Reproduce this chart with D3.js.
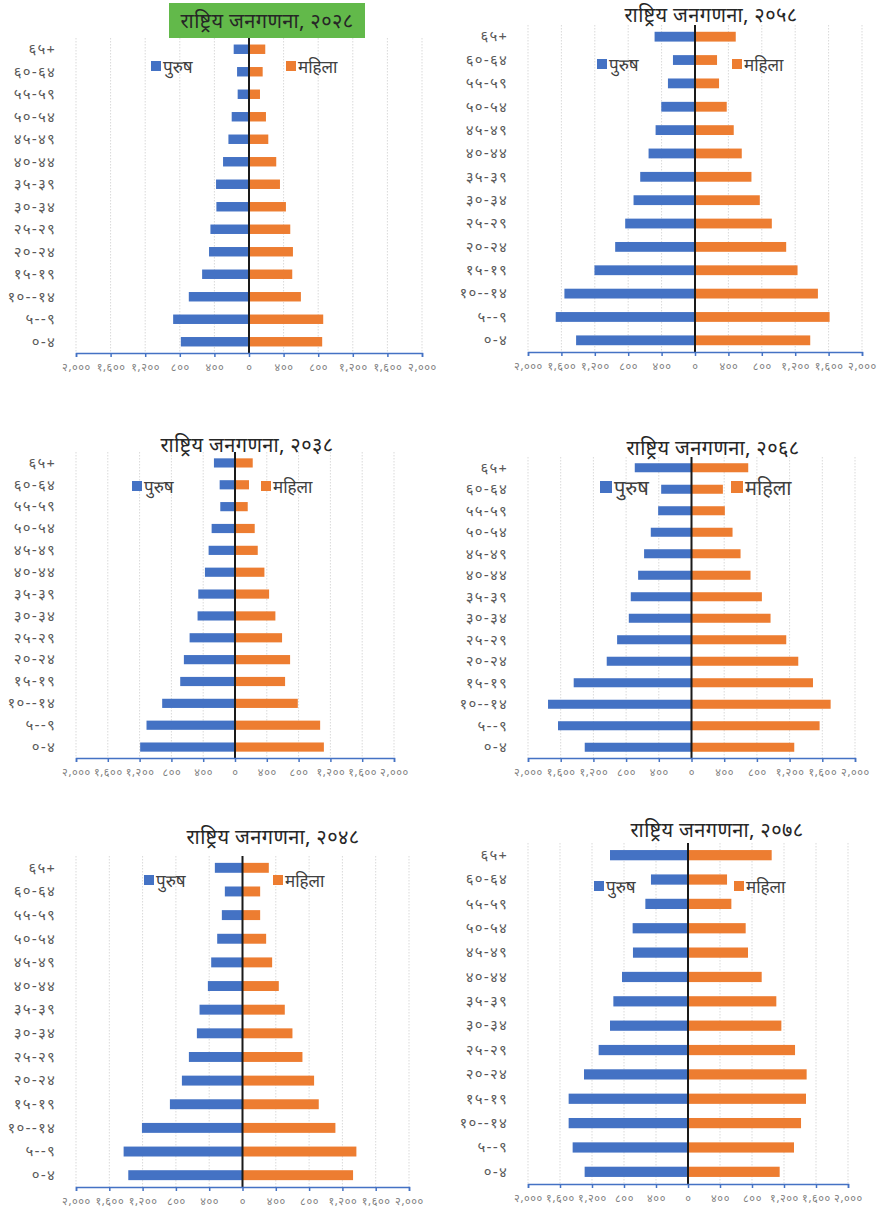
<!DOCTYPE html>
<html>
<head>
<meta charset="utf-8">
<script src="https://cdn.jsdelivr.net/npm/d3@7"></script>
<style>
  body { margin: 0; background: #ffffff; }
  svg text { font-family: "Noto Sans Devanagari", "Lohit Devanagari", "Noto Sans", sans-serif; }
</style>
</head>
<body>
<div id="pyramids"></div>
<script>
// age groups, bottom (0-4) to top (65+)
var ageGroups = ["०-४", "५--९", "१०--१४", "१५-१९", "२०-२४", "२५-२९", "३०-३४",
    "३५-३९", "४०-४४", "४५-४९", "५०-५४", "५५-५९", "६०-६४", "६५+"];

var tickValues = [-2000, -1600, -1200, -800, -400, 0, 400, 800, 1200, 1600, 2000];
var tickLabels = ["२,०००", "१,६००", "१,२००", "८००", "४००", "०", "४००", "८००", "१,२००", "१,६००", "२,०००"];

var seriesNames = ["पुरुष", "महिला"];

var titles = ["राष्ट्रिय जनगणना, २०२८", "राष्ट्रिय जनगणना, २०५८", "राष्ट्रिय जनगणना, २०३८",
    "राष्ट्रिय जनगणना, २०६८", "राष्ट्रिय जनगणना, २०४८", "राष्ट्रिय जनगणना, २०७८"];

var male2028 = [788, 877, 696, 542, 462, 446, 377, 381, 300, 238, 200, 131, 138, 177];
var female2028 = [846, 858, 600, 500, 508, 477, 427, 358, 315, 223, 196, 127, 158, 188];

var male2058 = [1424, 1668, 1564, 1204, 956, 836, 736, 656, 556, 472, 404, 324, 264, 484];
var female2058 = [1380, 1612, 1472, 1228, 1092, 920, 776, 676, 560, 464, 380, 288, 264, 488];

var male2038 = [1193, 1113, 916, 689, 643, 571, 471, 462, 378, 332, 294, 185, 193, 265];
var female2038 = [1118, 1071, 790, 630, 693, 592, 508, 429, 370, 286, 248, 160, 176, 223];

var male2068 = [1306, 1633, 1755, 1441, 1037, 910, 767, 743, 653, 580, 498, 408, 371, 694];
var female2068 = [1257, 1567, 1702, 1486, 1306, 1159, 967, 861, 722, 600, 502, 408, 384, 694];

var male2048 = [1372, 1428, 1208, 872, 728, 644, 548, 516, 416, 376, 304, 248, 212, 332];
var female2048 = [1328, 1368, 1116, 916, 860, 720, 600, 508, 436, 356, 284, 212, 212, 316];

var male2078 = [1292, 1442, 1492, 1492, 1300, 1117, 975, 933, 825, 688, 692, 533, 463, 975];
var female2078 = [1146, 1325, 1413, 1475, 1483, 1338, 1167, 1104, 921, 750, 721, 542, 488, 1046];

var maleColor = "#4472c4";
var femaleColor = "#ed7d31";

// where each pyramid sits on the page
var panels = [
    {male: male2028, female: female2028, x0: 76, x1: 422, top: 38, axis: 353, titleX: 267, titleY: 28, box: true,
        legY: 61, legBlue: 151, legOrange: 286, legSize: 10, legFont: 17, labelX: 56},
    {male: male2058, female: female2058, x0: 528, x1: 862, top: 25, axis: 352, titleX: 711, titleY: 22, box: false,
        legY: 59, legBlue: 597, legOrange: 732, legSize: 10, legFont: 17, labelX: 508},
    {male: male2038, female: female2038, x0: 76, x1: 394, top: 452, axis: 758, titleX: 247, titleY: 452, box: false,
        legY: 481, legBlue: 132, legOrange: 261, legSize: 10, legFont: 17, labelX: 56},
    {male: male2068, female: female2068, x0: 528, x1: 855, top: 457, axis: 758, titleX: 713, titleY: 455, box: false,
        legY: 481, legBlue: 600, legOrange: 731, legSize: 12, legFont: 20, labelX: 508},
    {male: male2048, female: female2048, x0: 76, x1: 409, top: 856, axis: 1187, titleX: 273, titleY: 844, box: false,
        legY: 875, legBlue: 144, legOrange: 273, legSize: 10, legFont: 17, labelX: 56},
    {male: male2078, female: female2078, x0: 528, x1: 848, top: 843, axis: 1184, titleX: 717, titleY: 837, box: false,
        legY: 881, legBlue: 594, legOrange: 734, legSize: 10, legFont: 17, labelX: 508}
];

var svg = d3.select("#pyramids").append("svg")
    .attr("width", 881)
    .attr("height", 1210);

function drawPyramid(p, title) {

    var g = svg.append("g").attr("class", "pyramid");

    var x = d3.scaleLinear()
        .domain([-2000, 2000])
        .range([p.x0, p.x1]);

    var y = d3.scaleBand()
        .domain(ageGroups.slice().reverse())
        .range([p.top, p.axis])
        .paddingInner(0.58)
        .paddingOuter(0.29);

    // dotted vertical gridlines
    g.selectAll("line.grid")
        .data(tickValues)
        .enter()
        .append("line")
        .attr("class", "grid")
        .attr("x1", function (d) { return x(d); })
        .attr("x2", function (d) { return x(d); })
        .attr("y1", p.top)
        .attr("y2", p.axis)
        .style("stroke", "#d9d9d9")
        .style("stroke-width", 1)
        .style("stroke-dasharray", "1.5,1.5");

    // title
    if (p.box) {
        g.append("rect")
            .attr("x", p.titleX - 98)
            .attr("y", 3)
            .attr("width", 196)
            .attr("height", 35)
            .attr("fill", "#62b94a");
    }
    g.append("text")
        .attr("x", p.titleX)
        .attr("y", p.titleY)
        .attr("text-anchor", "middle")
        .style("font-size", "20px")
        .style("letter-spacing", "0.4px")
        .style("fill", "#262626")
        .text(title);

    // bars
    var rows = ageGroups.map(function (a, i) {
        return {age: a, male: p.male[i], female: p.female[i]};
    });

    g.selectAll("rect.male")
        .data(rows)
        .enter()
        .append("rect")
        .attr("class", "male")
        .attr("x", function (d) { return x(-d.male); })
        .attr("y", function (d) { return y(d.age); })
        .attr("width", function (d) { return x(0) - x(-d.male); })
        .attr("height", y.bandwidth())
        .attr("fill", maleColor);

    g.selectAll("rect.female")
        .data(rows)
        .enter()
        .append("rect")
        .attr("class", "female")
        .attr("x", x(0))
        .attr("y", function (d) { return y(d.age); })
        .attr("width", function (d) { return x(d.female) - x(0); })
        .attr("height", y.bandwidth())
        .attr("fill", femaleColor);

    // zero line
    g.append("line")
        .attr("x1", x(0))
        .attr("x2", x(0))
        .attr("y1", p.top)
        .attr("y2", p.axis)
        .style("stroke", "#1a1a1a")
        .style("stroke-width", 2);

    // category labels
    g.selectAll("text.age")
        .data(ageGroups)
        .enter()
        .append("text")
        .attr("class", "age")
        .attr("x", p.labelX)
        .attr("y", function (d) { return y(d) + y.bandwidth() / 2; })
        .attr("dy", "0.32em")
        .attr("text-anchor", "end")
        .style("font-size", "15px")
        .style("letter-spacing", "1.2px")
        .style("fill", "#595959")
        .text(function (d) { return d; });

    // x axis
    var xAxis = d3.axisBottom(x)
        .tickValues(tickValues)
        .tickSize(4)
        .tickFormat(function (d, i) { return tickLabels[i]; });

    var ax = g.append("g")
        .attr("transform", "translate(0," + p.axis + ")")
        .call(xAxis);
    ax.select(".domain").style("stroke", maleColor).style("stroke-width", 1.5);
    ax.selectAll(".tick line").style("stroke", maleColor).style("stroke-width", 1.5);
    ax.selectAll(".tick text")
        .attr("y", 10)
        .style("font-size", "11px")
        .style("letter-spacing", "0.6px")
        .style("fill", "#7f7f7f")
        .style("font-family", "\"Noto Sans Devanagari\", \"Noto Sans\", sans-serif");

    // legend
    var leg = [{name: seriesNames[0], x: p.legBlue, color: maleColor},
        {name: seriesNames[1], x: p.legOrange, color: femaleColor}];

    g.selectAll("rect.leg")
        .data(leg)
        .enter()
        .append("rect")
        .attr("class", "leg")
        .attr("x", function (d) { return d.x; })
        .attr("y", p.legY)
        .attr("width", p.legSize)
        .attr("height", p.legSize)
        .attr("fill", function (d) { return d.color; });

    g.selectAll("text.leg")
        .data(leg)
        .enter()
        .append("text")
        .attr("class", "leg")
        .attr("x", function (d) { return d.x + p.legSize + 2; })
        .attr("y", p.legY + p.legSize + 2)
        .style("font-size", p.legFont + "px")
        .style("fill", "#404040")
        .text(function (d) { return d.name; });
}

panels.forEach(function (p, i) {
    drawPyramid(p, titles[i]);
});
</script>
</body>
</html>
